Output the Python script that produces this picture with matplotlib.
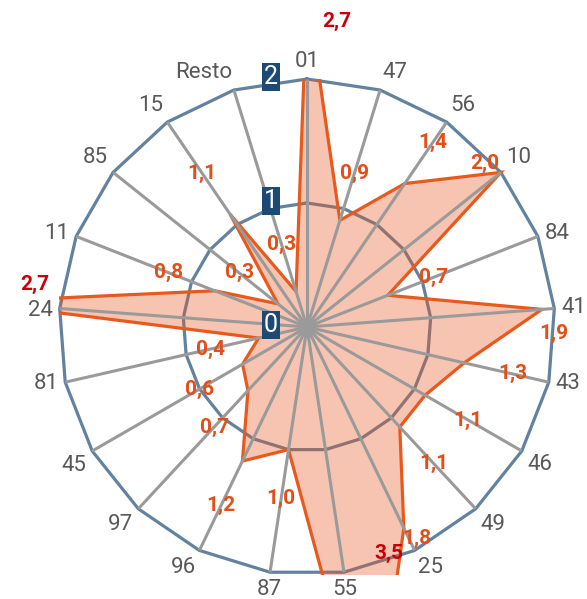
import numpy as np
import matplotlib
matplotlib.use("Agg")
import matplotlib.pyplot as plt

# ---------------- data ----------------
categories = ["01", "47", "56", "10", "84", "41", "43", "46", "49", "25", "55",
              "87", "96", "97", "45", "81", "24", "11", "85", "15", "Resto"]
values = [2.7, 0.9, 1.4, 2.0, 0.7, 1.9, 1.3, 1.1, 1.1, 1.8, 3.5,
          1.0, 1.2, 0.7, 0.6, 0.4, 2.7, 0.8, 0.3, 1.1, 0.3]
ring_values = [0, 1, 2]
axis_max = 2

# label placement overrides for labels near / beyond the edge: (angle deg, radius units)
label_overrides = {"01": (5.6, 2.48), "10": (47.3, 1.95), "41": (91.6, 1.99),
                   "25": (152.5, 1.92), "55": (160.1, 1.94), "24": (278.8, 2.22)}
label_offset = 0.4

# ---------------- style ----------------
W, H = 587, 599
cx, cy, R = 307, 327, 248
FONT = ["Roboto", "DejaVu Sans"]
plt.rcParams["font.family"] = FONT

ring_color = "#62829f"
spoke_color = "#9a9a9a"
line_color = "#e65a1e"
fill_color = "#e8561e"
lab_color = "#e0501a"
over_color = "#c8000a"
cat_color = "#595959"
box_color = "#1c4a74"

fig = plt.figure(figsize=(W / 100, H / 100), dpi=100)
ax = fig.add_axes([(cx - R) / W, (H - cy - R) / H, 2 * R / W, 2 * R / H])
ax.set_xlim(-axis_max, axis_max)
ax.set_ylim(-axis_max, axis_max)
ax.axis("off")

n = len(categories)
theta = 2 * np.pi * np.arange(n) / n
sx, sy = np.sin(theta), np.cos(theta)

# rings
for rv in ring_values[1:]:
    ax.plot(np.append(rv * sx, rv * sx[0]), np.append(rv * sy, rv * sy[0]),
            color=ring_color, lw=2.3, zorder=1, clip_on=False, solid_joinstyle="miter")

# data polygon
v = np.array(values)
px, py = v * sx, v * sy
ax.fill(px, py, color=fill_color, alpha=0.35, lw=0, zorder=2)
ax.plot(np.append(px, px[0]), np.append(py, py[0]), color=line_color, lw=2.3,
        zorder=3, solid_joinstyle="miter")

# spokes
for i in range(n):
    ax.plot([0, axis_max * sx[i]], [0, axis_max * sy[i]], color=spoke_color,
            lw=2.2, zorder=4, clip_on=False, solid_capstyle="butt")

# category labels
pad = 7
for i, c in enumerate(categories):
    s, co = sx[i], sy[i]
    ha = "left" if s > 0.15 else ("right" if s < -0.15 else "center")
    va = "bottom" if co > 0.45 else ("top" if co < -0.45 else "center")
    dy = -2 if c == "24" else 0
    ax.annotate(c, (axis_max * s, axis_max * co),
                xytext=(pad * s * 0.72, pad * co * 0.72 + dy),
                textcoords="offset points", ha=ha, va=va, fontsize=16,
                color=cat_color, annotation_clip=False, zorder=6)

# value labels
for i, c in enumerate(categories):
    val = values[i]
    if c in label_overrides:
        ang, rr = label_overrides[c]
        a = np.deg2rad(ang)
        lx, ly = rr * np.sin(a), rr * np.cos(a)
    else:
        rr = val + label_offset
        lx, ly = rr * sx[i], rr * sy[i]
    col = over_color if val > axis_max else lab_color
    ax.text(lx, ly, f"{val:.1f}".replace(".", ","), ha="center", va="center",
            fontsize=15, color=col, fontweight="bold" if val > axis_max else "semibold",
            zorder=7, clip_on=False)

# value axis labels
for rv in ring_values:
    ax.text(-0.235, rv + 0.02, str(rv), ha="right", va="center", fontsize=18,
            color="white", zorder=8,
            bbox=dict(boxstyle="square,pad=0.08", fc=box_color, ec="none"))

fig.savefig("out.png", dpi=100)
